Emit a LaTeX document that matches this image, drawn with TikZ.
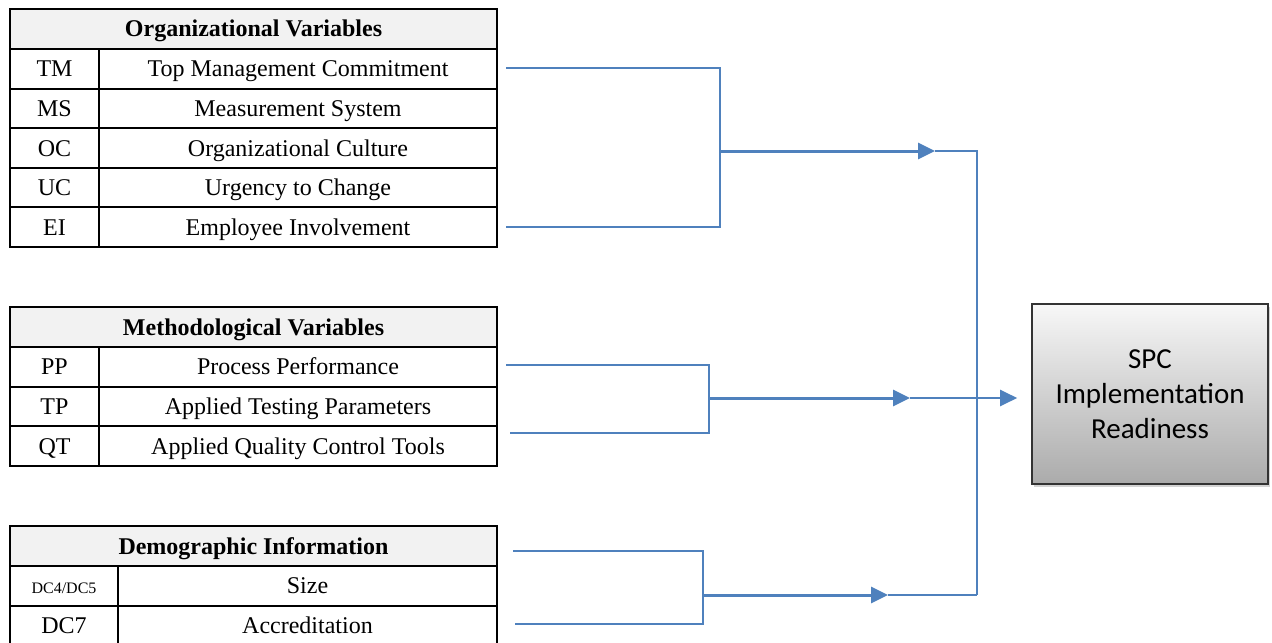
\documentclass[tikz,border=0pt]{standalone}
\usepackage{fontspec}
\setmainfont{Liberation Serif}
\newfontfamily\boxfont{Carlito}
\usetikzlibrary{positioning,arrows.meta,shadows}

\definecolor{linkblue}{HTML}{4F81BD}
\definecolor{headgray}{HTML}{F2F2F2}

\begin{document}
\begin{tikzpicture}[x=0.5pt, y=-0.5pt,
  cell/.style={draw, line width=1pt, inner sep=0pt, outer sep=0pt,
    minimum height=19.8pt, text height=10pt, text depth=2pt,
    font=\fontsize{12}{14}\selectfont},
  headcell/.style={cell, fill=headgray, minimum width=243.5pt, minimum height=20pt,
    anchor=north west, font=\fontsize{12}{14}\selectfont\bfseries},
  codecell/.style={cell, minimum width=44.5pt},
  namecell/.style={cell, minimum width=199pt},
  demcode/.style={cell, minimum width=54pt},
  demname/.style={cell, minimum width=189.5pt},
  link/.style={draw=linkblue, line width=1pt},
  feed/.style={draw=linkblue, line width=1.5pt, -{Triangle[length=8.5pt,width=8pt]}},
  spcbox/.style={draw=black!80, line width=0.8pt, minimum width=118pt, minimum height=90pt,
    align=center, top color=white!97!black, bottom color=black!33,
    drop shadow={opacity=0.35, shadow xshift=1.2pt, shadow yshift=-1.5pt},
    font=\boxfont\fontsize{14.5}{17.5}\selectfont},
]

  \useasboundingbox (0,0) rectangle (1272,642);

  % organizational variables
  \node[headcell] (orgHead) at (10,9) {Organizational Variables};
  \node[codecell, anchor=north west] (tm) at (orgHead.south west) {TM};
  \node[namecell, right=0pt of tm] (tmName) {Top Management Commitment};
  \node[codecell, below=0pt of tm] (ms) {MS};
  \node[namecell, right=0pt of ms] (msName) {Measurement System};
  \node[codecell, below=0pt of ms] (oc) {OC};
  \node[namecell, right=0pt of oc] (ocName) {Organizational Culture};
  \node[codecell, below=0pt of oc] (uc) {UC};
  \node[namecell, right=0pt of uc] (ucName) {Urgency to Change};
  \node[codecell, below=0pt of uc] (ei) {EI};
  \node[namecell, right=0pt of ei] (eiName) {Employee Involvement};

  % methodological variables
  \node[headcell] (metHead) at (10,307) {Methodological Variables};
  \node[codecell, anchor=north west] (pp) at (metHead.south west) {PP};
  \node[namecell, right=0pt of pp] (ppName) {Process Performance};
  \node[codecell, below=0pt of pp] (tp) {TP};
  \node[namecell, right=0pt of tp] (tpName) {Applied Testing Parameters};
  \node[codecell, below=0pt of tp] (qt) {QT};
  \node[namecell, right=0pt of qt] (qtName) {Applied Quality Control Tools};

  % demographic information
  \node[headcell] (demHead) at (10,526) {Demographic Information};
  \node[demcode, anchor=north west, font=\fontsize{8}{10}\selectfont] (dcs) at (demHead.south west) {DC4/DC5};
  \node[demname, right=0pt of dcs] (dcsName) {Size};
  \node[demcode, below=0pt of dcs] (dca) {DC7};
  \node[demname, right=0pt of dca] (dcaName) {Accreditation};

  % outcome
  \node[spcbox] (spc) at (1150,394) {SPC\\Implementation\\Readiness};

  % line ends and joints
  \coordinate (tmS) at (506,68);
  \coordinate (eiS) at (506,227);
  \coordinate (orgJ) at (720,151);
  \coordinate (orgT) at (935,151);
  \coordinate (ppS) at (506,365);
  \coordinate (qtS) at (510,433);
  \coordinate (metJ) at (709,398);
  \coordinate (metT) at (910,398);
  \coordinate (szS) at (513,551);
  \coordinate (acS) at (515,624);
  \coordinate (demJ) at (703,595);
  \coordinate (demT) at (888,595);
  \coordinate (busB) at (977,595);

  % organizational branch
  \draw[link] (tmS) -| (orgJ);
  \draw[link] (eiS) -| (orgJ);
  \draw[feed] (orgJ) -- (orgT);

  % methodological branch
  \draw[link] (ppS) -| (metJ);
  \draw[link] (qtS) -| (metJ);
  \draw[feed] (metJ) -- (metT);

  % demographic branch
  \draw[link] (szS) -| (demJ);
  \draw[link] (acS) -| (demJ);
  \draw[feed] (demJ) -- (demT);

  % collecting bus
  \draw[link] (orgT) -| (busB);
  \draw[link] (demT) -- (busB);
  \draw[link, -{Triangle[length=8.5pt,width=8pt]}, shorten >=7pt] (metT) -- (metT -| spc.west);

\end{tikzpicture}
\end{document}
